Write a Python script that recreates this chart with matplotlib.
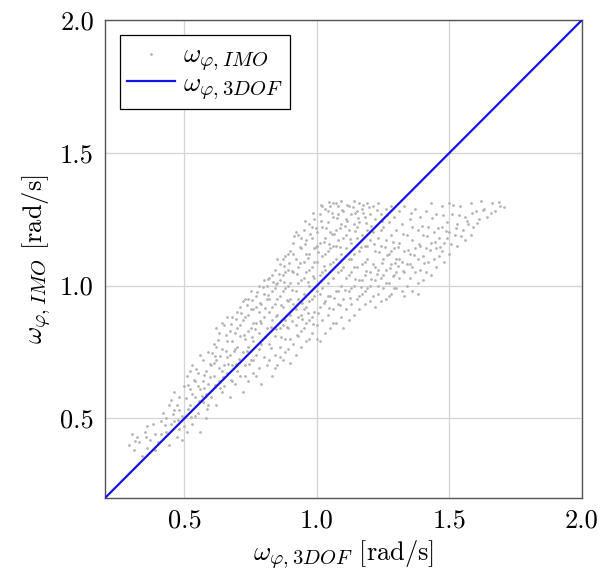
import matplotlib
matplotlib.use('Agg')
import matplotlib.pyplot as plt
import matplotlib._mathtext as mathtext_internal

plt.rcParams['font.family'] = 'serif'
plt.rcParams['font.serif'] = ['cmr10', 'DejaVu Serif']
plt.rcParams['mathtext.fontset'] = 'cm'
plt.rcParams['axes.formatter.use_mathtext'] = True
# pgfplots subscripts look a bit larger than mathtext's default
mathtext_internal.SHRINK_FACTOR = 0.78

# estimated cloud of IMO vs 3DOF samples (x = 3DOF, y = IMO)
cloud = [
    # 0.28 - 0.41
    (0.29, 0.40), (0.31, 0.38), (0.32, 0.43), (0.33, 0.41), (0.35, 0.45), (0.36, 0.39), (0.37, 0.42),
    (0.38, 0.48), (0.39, 0.44), (0.34, 0.36), (0.40, 0.41), (0.30, 0.44), (0.36, 0.47), (0.39, 0.38),
    (0.41, 0.49),
    # 0.41 - 0.50
    (0.42, 0.52), (0.43, 0.45), (0.44, 0.55), (0.45, 0.48), (0.46, 0.53), (0.47, 0.43), (0.48, 0.58),
    (0.49, 0.51), (0.44, 0.40), (0.46, 0.60), (0.47, 0.55), (0.48, 0.46), (0.50, 0.62), (0.50, 0.47),
    (0.43, 0.50), (0.45, 0.57), (0.49, 0.42), (0.41, 0.44), (0.48, 0.53), (0.46, 0.49),
    # 0.50 - 0.60
    (0.51, 0.66), (0.52, 0.55), (0.52, 0.61), (0.53, 0.48), (0.53, 0.70), (0.54, 0.58), (0.54, 0.64),
    (0.55, 0.52), (0.55, 0.67), (0.56, 0.45), (0.56, 0.61), (0.57, 0.72), (0.57, 0.56), (0.58, 0.68),
    (0.58, 0.50), (0.59, 0.63), (0.59, 0.75), (0.60, 0.58), (0.60, 0.70), (0.51, 0.45), (0.52, 0.68),
    (0.54, 0.51), (0.56, 0.74), (0.57, 0.64), (0.58, 0.59), (0.59, 0.55), (0.55, 0.62), (0.53, 0.59),
    # 0.60 - 0.70
    (0.61, 0.78), (0.61, 0.66), (0.62, 0.72), (0.62, 0.55), (0.63, 0.82), (0.63, 0.64), (0.64, 0.76),
    (0.64, 0.60), (0.65, 0.70), (0.65, 0.85), (0.66, 0.67), (0.66, 0.79), (0.67, 0.58), (0.67, 0.74),
    (0.68, 0.88), (0.68, 0.70), (0.69, 0.82), (0.69, 0.63), (0.70, 0.77), (0.70, 0.90), (0.61, 0.71),
    (0.62, 0.84), (0.63, 0.69), (0.64, 0.86), (0.65, 0.62), (0.66, 0.73), (0.67, 0.83), (0.68, 0.64),
    (0.69, 0.76), (0.70, 0.68), (0.62, 0.77), (0.64, 0.68), (0.66, 0.88), (0.68, 0.79), (0.70, 0.84),
    # 0.70 - 0.80
    (0.71, 0.81), (0.71, 0.92), (0.71, 0.66), (0.72, 0.75), (0.72, 0.87), (0.72, 0.60), (0.73, 0.95),
    (0.73, 0.80), (0.73, 0.70), (0.74, 0.89), (0.74, 0.77), (0.74, 0.64), (0.75, 0.98), (0.75, 0.84),
    (0.75, 0.72), (0.76, 0.91), (0.76, 0.79), (0.76, 0.67), (0.77, 0.96), (0.77, 0.86), (0.77, 0.74),
    (0.78, 1.00), (0.78, 0.82), (0.78, 0.69), (0.79, 0.93), (0.79, 0.78), (0.79, 0.63), (0.80, 0.97),
    (0.80, 0.88), (0.80, 0.73), (0.71, 0.85), (0.72, 0.94), (0.73, 0.88), (0.74, 0.83), (0.75, 0.91),
    (0.76, 0.86), (0.77, 0.92), (0.78, 0.90), (0.79, 0.86), (0.80, 1.02), (0.74, 0.95), (0.76, 0.72),
    (0.78, 0.76), (0.73, 0.66), (0.77, 0.66),
    # 0.80 - 0.90
    (0.81, 0.95), (0.81, 0.84), (0.81, 0.70), (0.82, 1.03), (0.82, 0.90), (0.82, 0.78), (0.83, 0.98),
    (0.83, 0.87), (0.83, 0.66), (0.84, 1.06), (0.84, 0.93), (0.84, 0.81), (0.84, 0.74), (0.85, 1.01),
    (0.85, 0.89), (0.85, 0.70), (0.86, 1.08), (0.86, 0.96), (0.86, 0.84), (0.86, 0.77), (0.87, 1.04),
    (0.87, 0.92), (0.87, 0.72), (0.88, 1.11), (0.88, 0.99), (0.88, 0.87), (0.88, 0.80), (0.89, 1.06),
    (0.89, 0.94), (0.89, 0.76), (0.90, 1.13), (0.90, 1.01), (0.90, 0.89), (0.90, 0.71), (0.81, 1.00),
    (0.82, 0.95), (0.83, 1.04), (0.84, 0.99), (0.85, 0.95), (0.86, 1.02), (0.87, 0.98), (0.88, 1.05),
    (0.89, 1.00), (0.90, 0.95), (0.85, 1.10), (0.87, 1.10), (0.89, 1.12), (0.82, 0.72), (0.84, 0.69),
    (0.86, 0.73), (0.88, 0.75), (0.90, 0.80), (0.83, 0.92), (0.87, 0.85), (0.89, 0.84),
    # 0.90 - 1.00
    (0.91, 1.16), (0.91, 1.05), (0.91, 0.93), (0.91, 0.78), (0.92, 1.10), (0.92, 0.98), (0.92, 0.85),
    (0.92, 0.74), (0.93, 1.19), (0.93, 1.07), (0.93, 0.95), (0.93, 0.81), (0.94, 1.14), (0.94, 1.02),
    (0.94, 0.89), (0.94, 0.77), (0.95, 1.21), (0.95, 1.09), (0.95, 0.97), (0.95, 0.84), (0.96, 1.17),
    (0.96, 1.05), (0.96, 0.92), (0.96, 0.79), (0.97, 1.23), (0.97, 1.12), (0.97, 1.00), (0.97, 0.87),
    (0.98, 1.18), (0.98, 1.07), (0.98, 0.95), (0.98, 0.82), (0.99, 1.25), (0.99, 1.14), (0.99, 1.03),
    (0.99, 0.90), (1.00, 1.20), (1.00, 1.09), (1.00, 0.98), (1.00, 0.85), (0.91, 1.12), (0.92, 1.20),
    (0.93, 1.01), (0.94, 1.18), (0.95, 1.03), (0.96, 1.12), (0.97, 1.06), (0.98, 1.22), (0.99, 1.09),
    (1.00, 1.15), (0.93, 0.88), (0.95, 0.91), (0.97, 0.94), (0.99, 0.96), (0.92, 0.91), (0.94, 0.83),
    (0.96, 0.86), (0.98, 0.88), (1.00, 0.80), (0.97, 0.80),
    # 1.00 - 1.10
    (1.01, 1.27), (1.01, 1.16), (1.01, 1.04), (1.01, 0.92), (1.01, 0.79), (1.02, 1.22), (1.02, 1.11),
    (1.02, 0.99), (1.02, 0.87), (1.03, 1.29), (1.03, 1.18), (1.03, 1.06), (1.03, 0.94), (1.03, 0.82),
    (1.04, 1.24), (1.04, 1.13), (1.04, 1.01), (1.04, 0.89), (1.05, 1.30), (1.05, 1.20), (1.05, 1.08),
    (1.05, 0.96), (1.05, 0.84), (1.06, 1.26), (1.06, 1.15), (1.06, 1.03), (1.06, 0.91), (1.07, 1.31),
    (1.07, 1.21), (1.07, 1.10), (1.07, 0.98), (1.07, 0.86), (1.08, 1.27), (1.08, 1.17), (1.08, 1.05),
    (1.08, 0.93), (1.09, 1.32), (1.09, 1.23), (1.09, 1.12), (1.09, 1.00), (1.09, 0.88), (1.10, 1.28),
    (1.10, 1.18), (1.10, 1.07), (1.10, 0.95), (1.10, 0.84), (1.02, 1.30), (1.04, 1.28), (1.06, 1.31),
    (1.08, 1.30), (1.02, 1.05), (1.04, 0.96), (1.06, 0.86), (1.08, 0.98), (1.03, 1.12), (1.05, 1.14),
    (1.07, 1.15), (1.09, 1.06), (1.01, 0.97), (1.06, 1.09),
    # 1.10 - 1.20
    (1.11, 1.25), (1.11, 1.14), (1.11, 1.03), (1.11, 0.91), (1.12, 1.30), (1.12, 1.21), (1.12, 1.10),
    (1.12, 0.98), (1.12, 0.87), (1.13, 1.27), (1.13, 1.16), (1.13, 1.05), (1.13, 0.93), (1.14, 1.32),
    (1.14, 1.23), (1.14, 1.12), (1.14, 1.00), (1.14, 0.89), (1.15, 1.28), (1.15, 1.18), (1.15, 1.07),
    (1.15, 0.95), (1.16, 1.31), (1.16, 1.24), (1.16, 1.13), (1.16, 1.02), (1.16, 0.91), (1.17, 1.29),
    (1.17, 1.19), (1.17, 1.08), (1.17, 0.97), (1.18, 1.26), (1.18, 1.15), (1.18, 1.04), (1.18, 0.93),
    (1.19, 1.31), (1.19, 1.21), (1.19, 1.10), (1.19, 0.99), (1.20, 1.27), (1.20, 1.17), (1.20, 1.05),
    (1.20, 0.94), (1.11, 1.19), (1.13, 1.10), (1.15, 1.22), (1.17, 1.02), (1.19, 1.15), (1.12, 1.04),
    (1.14, 1.07), (1.16, 0.96), (1.18, 1.09), (1.20, 1.00), (1.13, 0.99), (1.18, 0.98),
    # 1.20 - 1.30
    (1.21, 1.30), (1.21, 1.20), (1.21, 1.08), (1.21, 0.96), (1.22, 1.25), (1.22, 1.13), (1.22, 1.02),
    (1.22, 0.92), (1.23, 1.31), (1.23, 1.18), (1.23, 1.06), (1.23, 0.97), (1.24, 1.27), (1.24, 1.15),
    (1.24, 1.03), (1.24, 0.94), (1.25, 1.22), (1.25, 1.10), (1.25, 0.99), (1.26, 1.29), (1.26, 1.17),
    (1.26, 1.06), (1.26, 0.95), (1.27, 1.24), (1.27, 1.12), (1.27, 1.01), (1.28, 1.30), (1.28, 1.19),
    (1.28, 1.08), (1.28, 0.97), (1.29, 1.26), (1.29, 1.14), (1.29, 1.04), (1.30, 1.21), (1.30, 1.10),
    (1.30, 0.99), (1.22, 1.07), (1.24, 1.21), (1.26, 1.01), (1.28, 1.13), (1.30, 1.05), (1.25, 1.04),
    (1.27, 0.96), (1.29, 0.99), (1.23, 1.00),
    # 1.30 - 1.40
    (1.31, 1.28), (1.31, 1.16), (1.31, 1.03), (1.32, 1.23), (1.32, 1.09), (1.32, 0.98), (1.33, 1.30),
    (1.33, 1.13), (1.33, 1.05), (1.34, 1.19), (1.34, 1.08), (1.34, 1.00), (1.35, 1.25), (1.35, 1.12),
    (1.35, 1.03), (1.36, 1.17), (1.36, 1.07), (1.36, 0.98), (1.37, 1.29), (1.37, 1.14), (1.37, 1.05),
    (1.38, 1.21), (1.38, 1.10), (1.38, 1.01), (1.39, 1.26), (1.39, 1.15), (1.39, 1.06), (1.40, 1.19),
    (1.40, 1.11), (1.40, 1.02), (1.33, 0.96), (1.36, 1.22), (1.38, 0.97), (1.31, 1.10), (1.35, 1.08),
    # 1.40 - 1.50
    (1.41, 1.28), (1.41, 1.14), (1.41, 1.05), (1.42, 1.22), (1.42, 1.09), (1.43, 1.31), (1.43, 1.16),
    (1.43, 1.04), (1.44, 1.20), (1.44, 1.10), (1.45, 1.27), (1.45, 1.14), (1.45, 1.07), (1.46, 1.18),
    (1.46, 1.11), (1.47, 1.30), (1.47, 1.22), (1.47, 1.13), (1.48, 1.16), (1.48, 1.09), (1.49, 1.24),
    (1.49, 1.18), (1.50, 1.31), (1.50, 1.20), (1.50, 1.12),
    # 1.50 - 1.70
    (1.51, 1.27), (1.52, 1.19), (1.53, 1.23), (1.53, 1.15), (1.54, 1.30), (1.55, 1.21), (1.56, 1.26),
    (1.56, 1.17), (1.57, 1.23), (1.58, 1.31), (1.59, 1.22), (1.60, 1.28), (1.61, 1.25), (1.62, 1.32),
    (1.63, 1.29), (1.64, 1.26), (1.66, 1.31), (1.67, 1.28), (1.69, 1.30), (1.58, 1.19),
]

# more samples read between the columns above, where the cloud is densest
cloud_dense = [
    (0.315, 0.415), (0.355, 0.428), (0.425, 0.475), (0.455, 0.515), (0.475, 0.495), (0.505, 0.575),
    (0.515, 0.625), (0.525, 0.505), (0.545, 0.685), (0.565, 0.585), (0.575, 0.665), (0.585, 0.535),
    (0.595, 0.705), (0.605, 0.745), (0.615, 0.625), (0.625, 0.795), (0.635, 0.735), (0.645, 0.655),
    (0.655, 0.815), (0.665, 0.705), (0.675, 0.855), (0.685, 0.755), (0.695, 0.875), (0.705, 0.725),
    (0.715, 0.895), (0.725, 0.815), (0.735, 0.925), (0.745, 0.705), (0.755, 0.945), (0.765, 0.835),
    (0.775, 0.975), (0.785, 0.865), (0.795, 0.995), (0.805, 0.915), (0.815, 1.025), (0.825, 0.845),
    (0.835, 1.015), (0.845, 0.885), (0.855, 1.045), (0.865, 0.925), (0.875, 1.075), (0.885, 0.945),
    (0.895, 1.085), (0.905, 0.985), (0.915, 1.185), (0.925, 1.045), (0.935, 1.145), (0.945, 0.935),
    (0.955, 1.155), (0.965, 1.015), (0.975, 1.195), (0.985, 1.035), (0.995, 1.215), (1.005, 1.125),
    (1.015, 1.245), (1.025, 1.075), (1.035, 1.215), (1.045, 1.155), (1.055, 1.275), (1.065, 1.195),
    (1.075, 1.255), (1.085, 1.145), (1.095, 1.285), (1.105, 1.225), (1.115, 1.305), (1.125, 1.175),
    (1.135, 1.295), (1.145, 1.205), (1.155, 1.255), (1.165, 1.145), (1.175, 1.275), (1.185, 1.235),
    (1.195, 1.295), (1.205, 1.225), (1.215, 1.155), (1.225, 1.285), (1.235, 1.125), (1.245, 1.245),
    (1.255, 1.145), (1.265, 1.265), (1.275, 1.065), (1.285, 1.165), (1.295, 1.085), (1.305, 1.145),
    (0.805, 0.805), (0.825, 0.765), (0.845, 0.835), (0.865, 0.805), (0.885, 0.845), (0.905, 0.865),
    (0.925, 0.815), (0.945, 0.875), (0.965, 0.895), (0.985, 0.855), (1.005, 0.895), (1.025, 0.935),
    (1.045, 0.915), (1.065, 0.955), (1.085, 0.925), (1.105, 0.985), (1.125, 0.955), (1.145, 1.025),
    (1.165, 0.995), (1.185, 1.055), (1.205, 1.025), (1.225, 1.045), (1.245, 1.085), (1.265, 1.115),
    (1.285, 1.035), (1.305, 1.075), (1.325, 1.055), (1.345, 1.135), (1.365, 1.115), (1.385, 1.155),
    (1.405, 1.085), (1.425, 1.135), (1.445, 1.165), (1.465, 1.145), (1.485, 1.205), (1.505, 1.155),
    (1.525, 1.215), (1.545, 1.185), (1.565, 1.245), (1.585, 1.275), (1.605, 1.235), (1.625, 1.285),
    (1.655, 1.275), (1.685, 1.315), (1.705, 1.295), (1.435, 1.255), (1.455, 1.215), (1.475, 1.265),
    (1.515, 1.305), (1.535, 1.265), (1.395, 1.225), (1.415, 1.185), (1.355, 1.275), (1.325, 1.195),
    (0.735, 0.755), (0.755, 0.805), (0.695, 0.705), (0.675, 0.645), (0.655, 0.755), (0.635, 0.615),
    (0.615, 0.735), (0.595, 0.655), (0.575, 0.615), (0.555, 0.565), (0.535, 0.645), (0.515, 0.535),
    (0.785, 0.935), (0.815, 0.965), (0.845, 1.005), (0.875, 1.015), (0.905, 1.055), (0.935, 1.085),
    (0.965, 1.105), (0.995, 1.145), (1.025, 1.165), (1.055, 1.195), (1.085, 1.215), (1.115, 1.245),
    (1.145, 1.275), (1.175, 1.305), (0.955, 1.245), (0.985, 1.275), (1.015, 1.305), (1.045, 1.315),
]

x_3dof = [p[0] for p in cloud + cloud_dense]
y_imo = [p[1] for p in cloud + cloud_dense]

# reference line end points (identity)
ref_line = [0.2, 2.0]
ticks = [0.5, 1.0, 1.5, 2.0]
tick_labels = ['0.5', '1.0', '1.5', '2.0']

fig = plt.figure(figsize=(6.08, 5.70), dpi=100)
ax = fig.add_axes([0.1727, 0.1263, 0.7845, 0.8386])

ax.grid(True, color='#d4d4d4', linewidth=0.9)
ax.set_axisbelow(True)

ax.scatter(x_3dof, y_imo, s=4, color='#b4b4b4', linewidths=0,
           label=r'$\omega_{\varphi,IMO}$', zorder=2)
ax.plot(ref_line, ref_line, color='#1414e6', linewidth=1.6,
        label=r'$\omega_{\varphi,3DOF}$', zorder=3)

ax.set_xlim(0.2, 2.0)
ax.set_ylim(0.2, 2.0)
ax.set_xticks(ticks)
ax.set_yticks(ticks)
ax.set_xticklabels(tick_labels)
ax.set_yticklabels(tick_labels)
ax.tick_params(length=0, labelsize=19, pad=8)

for s in ax.spines.values():
    s.set_color('#555555')
    s.set_linewidth(1.0)

ax.set_xlabel(r'$\omega_{\varphi,3DOF}$ [rad/s]', fontsize=19, labelpad=4)
ax.set_ylabel(r'$\omega_{\varphi,IMO}$ [rad/s]', fontsize=19, labelpad=6)

leg = ax.legend(loc='upper left', fontsize=19, fancybox=False, framealpha=1,
                edgecolor='black', borderaxespad=0.55, handlelength=1.8,
                handletextpad=0.3, borderpad=0.3, labelspacing=0.0,
                markerscale=1.0)
leg.get_frame().set_linewidth(0.9)

fig.savefig('out.png', dpi=100)
